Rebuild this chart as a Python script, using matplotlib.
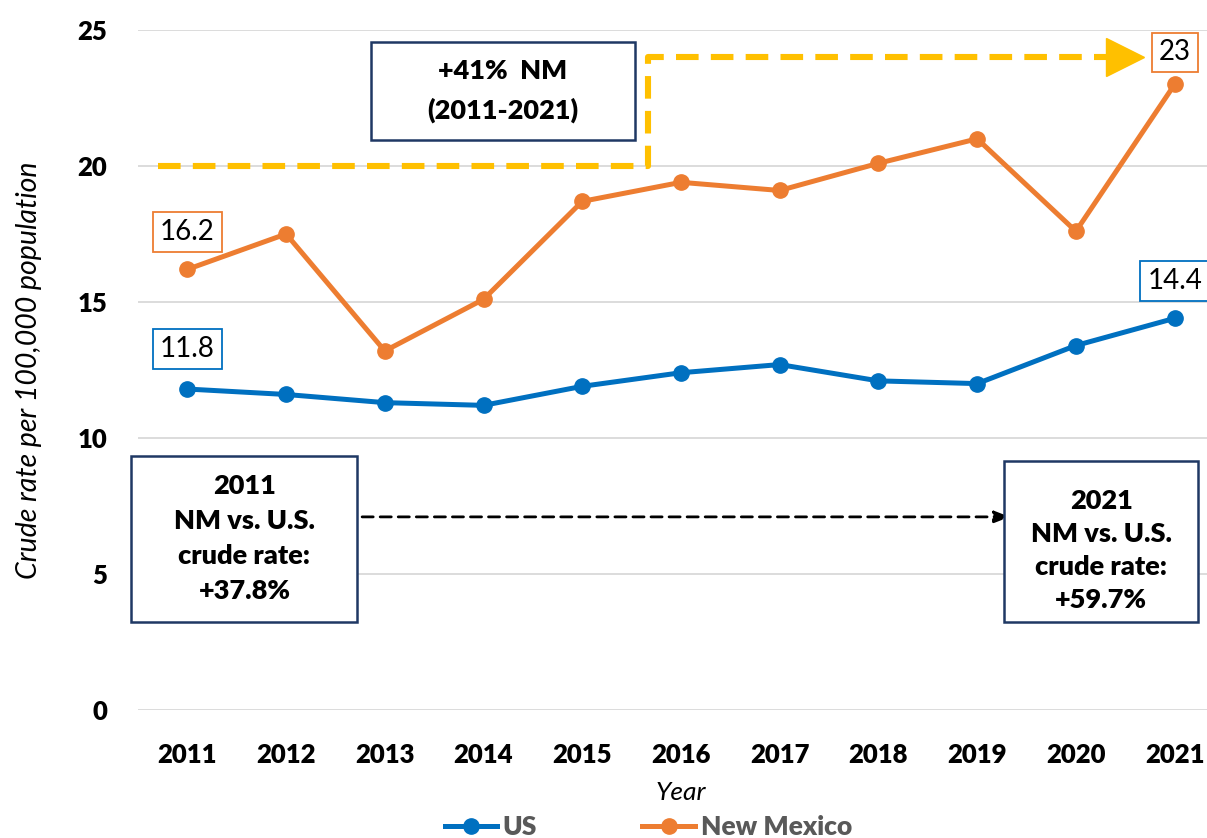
import matplotlib
matplotlib.use('Agg')
import matplotlib.pyplot as plt
from matplotlib.patches import Rectangle

plt.rcParams['font.family'] = ['Lato', 'DejaVu Sans']

# data
years = ['2011', '2012', '2013', '2014', '2015', '2016', '2017', '2018', '2019', '2020', '2021']
us_rate = [11.8, 11.6, 11.3, 11.2, 11.9, 12.4, 12.7, 12.1, 12.0, 13.4, 14.4]
nm_rate = [16.2, 17.5, 13.2, 15.1, 18.7, 19.4, 19.1, 20.1, 21.0, 17.6, 23.0]
y_ticks = [0, 5, 10, 15, 20, 25]

us_col = '#0070C0'
nm_col = '#ED7D31'
navy = '#1F3864'
gold = '#FFC000'

fig = plt.figure(figsize=(12.07, 8.38), dpi=100)
ax = fig.add_axes([138 / 1207, 128 / 838, 1086 / 1207, 680 / 838])

x = list(range(len(years)))
ax.plot(x, us_rate, color=us_col, lw=3.6, marker='o', ms=11, label='US', zorder=4)
ax.plot(x, nm_rate, color=nm_col, lw=3.6, marker='o', ms=11, label='New Mexico', zorder=4)

ax.set_xlim(-0.5, len(years) - 0.5)
ax.set_ylim(0, 25)
ax.set_yticks(y_ticks)
ax.set_xticks(x)
ax.set_xticklabels(years)
ax.grid(axis='y', color='#D9D9D9', lw=1.3)
ax.set_axisbelow(True)
for s in ax.spines.values():
    s.set_visible(False)
ax.tick_params(axis='both', length=0, labelsize=18.5)
ax.tick_params(axis='y', pad=22)
ax.tick_params(axis='x', pad=24)
for lab in ax.get_xticklabels() + ax.get_yticklabels():
    lab.set_fontweight('heavy')

ax.set_ylabel('Crude rate per 100,000 population', fontsize=20.5, style='italic', labelpad=26)
ax.set_xlabel('Year', fontsize=19, style='italic', labelpad=10)

# data labels on first / last points
def value_box(i, v, col, dy):
    txt = f'{v:g}'
    ax.annotate(txt, xy=(i, v), xytext=(0, dy), textcoords='offset points',
                ha='center', va='center', fontsize=20,
                bbox=dict(boxstyle='square,pad=0.25', fc='white', ec=col, lw=1.3),
                zorder=6, annotation_clip=False)

value_box(0, nm_rate[0], nm_col, 27)
value_box(0, us_rate[0], us_col, 29)
value_box(len(years) - 1, nm_rate[-1], nm_col, 23)
value_box(len(years) - 1, us_rate[-1], us_col, 27)

# yellow dashed step arrow (2011 level ~20 -> 2021 level ~24)
ax.plot([-0.3, 4.67, 4.67, 9.35], [20, 20, 24, 24], color=gold, lw=4.4,
        dashes=(3.7, 2.0), solid_joinstyle='miter', zorder=3, clip_on=False)
ax.plot([9.5], [24], marker='>', color=gold, ms=27, mec=gold, zorder=3, clip_on=False)

# text boxes
def note_box(x0, x1, y0, y1, lines, fs, ls, yc=None):
    ax.add_patch(Rectangle((x0, y0), x1 - x0, y1 - y0, fc='white', ec=navy, lw=1.8,
                           zorder=5, clip_on=False))
    if yc is None:
        yc = (y0 + y1) / 2
    ax.text((x0 + x1) / 2, yc, lines, ha='center', va='center',
            fontsize=fs, fontweight='heavy', linespacing=ls, zorder=6)

note_box(1.864, 4.53, 20.96, 24.56, '+41%  NM\n(2011-2021)', 19.5, 1.65)
note_box(-0.567, 1.722, 3.24, 9.34, '2011\nNM vs. U.S.\ncrude rate:\n+37.8%', 19.5, 1.55)
note_box(8.27, 10.24, 3.24, 9.15, '2021\nNM vs. U.S.\ncrude rate:\n+59.7%', 19.5, 1.45, 5.85)

# black dashed arrow between the two comparison boxes
ax.annotate('', xy=(8.33, 7.1), xytext=(1.77, 7.1),
            arrowprops=dict(arrowstyle='-|>,head_length=0.9,head_width=0.35', color='black',
                            lw=2.0, ls=(0, (4, 2.5)), shrinkA=0, shrinkB=0), zorder=4)

leg = fig.legend(loc='lower center', bbox_to_anchor=(0.537, -0.03), ncol=2, frameon=False,
                 fontsize=19, handlelength=2.0, columnspacing=4.0, handletextpad=0.2)
for t in leg.get_texts():
    t.set_color('#595959')
    t.set_fontweight('heavy')

fig.savefig('out.png', dpi=100)
